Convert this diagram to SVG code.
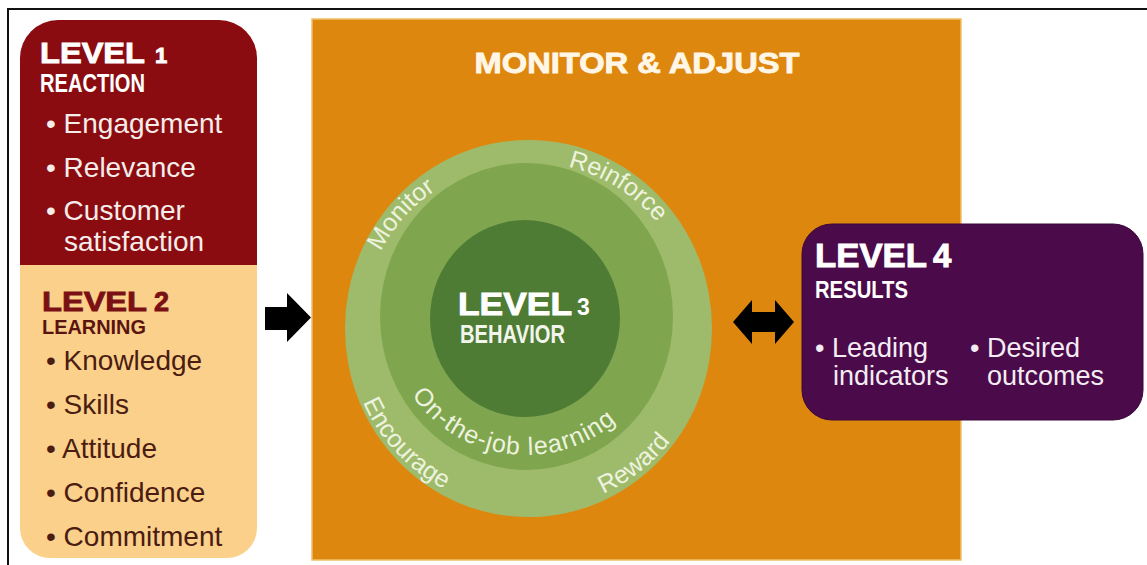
<svg xmlns="http://www.w3.org/2000/svg" width="1147" height="565" viewBox="0 0 1147 565">
<style>
text{font-family:"Liberation Sans",Arial,sans-serif}
.b{font-weight:bold}
.w{fill:#FFFFFF}
.hv{stroke-width:0.9;paint-order:stroke}
.lv1{fill:#F5EDEA;font-size:28px}
.lv2{fill:#4A1C12;font-size:28px}
.lv4{fill:#F3EDF3;font-size:27px}
.ring{fill:#EEF3DF;font-size:25px}
.arrow{fill:#000000}
</style>
<defs>
<path id="topArc" d="M 361.5 329 A 167 167 0 0 1 695.5 329"/>
<path id="botArc" d="M 347.5 329 A 181 181 0 0 0 709.5 329"/>
<path id="midArc" d="M 387 316 A 139 139 0 0 0 665 316"/>
</defs>
<rect width="1147" height="565" fill="#FFFFFF"/>
<path d="M 8 565 V 9 H 1147" fill="none" stroke="#111111" stroke-width="2"/>

<g id="monitor-adjust">
<rect x="312" y="19" width="649" height="541" fill="#DE870E" stroke="#F0C06A" stroke-width="1.5"/>
<text x="637" y="73" class="b hv" font-size="30" fill="#FFF6E6" stroke="#FFF6E6" text-anchor="middle" textLength="325" lengthAdjust="spacingAndGlyphs">MONITOR &amp; ADJUST</text>
</g>

<g id="level1">
<path d="M20,265 V58 A38,38 0 0 1 58,20 H219 A38,38 0 0 1 257,58 V265 Z" fill="#8A0C10"/>
<text x="40" y="63" class="b w hv" stroke="#FFFFFF" font-size="29" textLength="105" lengthAdjust="spacingAndGlyphs">LEVEL</text>
<text x="155" y="63" class="b w hv" stroke="#FFFFFF" font-size="22">1</text>
<text x="40" y="92" class="b w" font-size="25" textLength="105" lengthAdjust="spacingAndGlyphs">REACTION</text>
<text x="46" y="133" class="lv1">• Engagement</text>
<text x="46" y="177" class="lv1">• Relevance</text>
<text x="46" y="220" class="lv1">• Customer</text>
<text x="64" y="251" class="lv1">satisfaction</text>
</g>

<g id="level2">
<path d="M20,265 H257 V528 A30,30 0 0 1 227,558 H50 A30,30 0 0 1 20,528 Z" fill="#FBD08A"/>
<text x="42" y="311" class="b hv" font-size="28" fill="#7A1014" stroke="#7A1014" textLength="105" lengthAdjust="spacingAndGlyphs">LEVEL</text>
<text x="154" y="311" class="b hv" font-size="27" fill="#7A1014" stroke="#7A1014">2</text>
<text x="42" y="334" class="b" font-size="20" fill="#5A1410" textLength="104" lengthAdjust="spacingAndGlyphs">LEARNING</text>
<text x="46" y="370" class="lv2">• Knowledge</text>
<text x="46" y="414" class="lv2">• Skills</text>
<text x="46" y="458" class="lv2">• Attitude</text>
<text x="46" y="502" class="lv2">• Confidence</text>
<text x="46" y="546" class="lv2">• Commitment</text>
</g>

<g id="level3">
<ellipse cx="528.5" cy="328.5" rx="183.5" ry="188.5" fill="#9EBB6C"/>
<ellipse cx="526.5" cy="316.5" rx="146.5" ry="153.5" fill="#7FA64F"/>
<ellipse cx="525" cy="318.5" rx="95" ry="98.5" fill="#4F7C35"/>
<text x="458" y="315" class="b w hv" stroke="#FFFFFF" font-size="32" textLength="114" lengthAdjust="spacingAndGlyphs">LEVEL</text>
<text x="577" y="315" class="b w" font-size="23">3</text>
<text x="460" y="343" class="b" font-size="25" fill="#F2F5EC" textLength="105" lengthAdjust="spacingAndGlyphs">BEHAVIOR</text>
<text class="ring"><textPath href="#topArc" startOffset="23.3%" text-anchor="middle">Monitor</textPath></text>
<text class="ring"><textPath href="#topArc" startOffset="67.8%" text-anchor="middle">Reinforce</textPath></text>
<text class="ring"><textPath href="#botArc" startOffset="23.9%" text-anchor="middle">Encourage</textPath></text>
<text class="ring"><textPath href="#botArc" startOffset="71.1%" text-anchor="middle">Reward</textPath></text>
<text class="ring" font-size="29" letter-spacing="1"><textPath href="#midArc" startOffset="46%" text-anchor="middle">On-the-job learning</textPath></text>
</g>

<g id="level4">
<rect x="802" y="224" width="341" height="196" rx="30" fill="#4B0A4A" stroke="#3A0638" stroke-width="1"/>
<text x="815" y="267" class="b w hv" stroke="#FFFFFF" font-size="33" textLength="112" lengthAdjust="spacingAndGlyphs">LEVEL</text>
<text x="933" y="267" class="b w hv" stroke="#FFFFFF" font-size="33">4</text>
<text x="815" y="298" class="b w" font-size="24" textLength="93" lengthAdjust="spacingAndGlyphs">RESULTS</text>
<text x="815" y="357" class="lv4">• Leading</text>
<text x="833" y="385" class="lv4">indicators</text>
<text x="970" y="357" class="lv4">• Desired</text>
<text x="987" y="385" class="lv4">outcomes</text>
</g>

<g id="connectors">
<polygon class="arrow" points="265,307 287,307 287,293 311,317.5 287,342 287,330 265,330"/>
<polygon class="arrow" points="733,322 752,300 752,312 775,312 775,300 794,322 775,344 775,332 752,332 752,344"/>
</g>
</svg>
